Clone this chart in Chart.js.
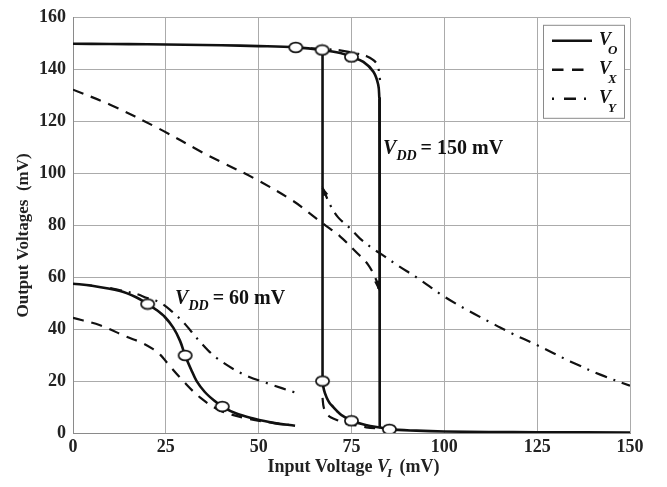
<!DOCTYPE html>
<html>
<head>
<meta charset="utf-8">
<script src="https://cdn.jsdelivr.net/npm/chart.js@4/dist/chart.umd.min.js"></script>
<style>
  html, body { margin: 0; padding: 0; background: #fff; }
  canvas { display: block; }
</style>
</head>
<body>
<canvas id="c" width="667" height="487"></canvas>
<script>
// ---- Transfer curves of the Schmitt-type inverter (mV) ----
// VDD = 150 mV, output high branch (sweeping up)
const vo150HighX = [0, 10, 20, 30, 40, 50, 60, 67.1, 72, 75, 78.2, 80.9, 82.2, 82.5];
const vo150HighY = [150, 149.9, 149.8, 149.6, 149.4, 149.1, 148.6, 147.6, 146.4, 144.9, 143, 139.2, 134.2, 129];
// fall at the upper threshold
const vo150FallX = [82.5, 82.6];
const vo150FallY = [129, 2.2];
// rise at the lower threshold
const vo150RiseX = [67.2, 67.2];
const vo150RiseY = [147.6, 20];
// VDD = 150 mV, output low branch (sweeping down)
const vo150LowX = [67.2, 67.6, 68.3, 69.1, 70.1, 71.2, 72.4, 75, 79.1, 82.7, 85.2, 92.5, 100, 112, 125, 150];
const vo150LowY = [20, 16.5, 13.7, 11.6, 10, 8.3, 6.8, 4.7, 3, 2.1, 1.4, 0.9, 0.6, 0.4, 0.3, 0.2];
// VX, VDD = 150 mV
const vx150HighX = [0, 10, 23.4, 35, 40, 49.5, 59.3, 63.4, 67.4, 71.9, 75.9, 79.5, 81.8, 82.3];
const vx150HighY = [132.3, 126.5, 117.1, 108, 104.4, 97.6, 89.4, 85, 80.6, 75.8, 70.2, 64.8, 58.5, 55.5];
const vx150LowX = [67.2, 67.5, 68.2, 69.5, 71.5, 73.5, 76.5, 79, 83];
const vx150LowY = [13.5, 10, 7.6, 6, 4.8, 3.7, 2.9, 2.2, 1.6];
// VY, VDD = 150 mV
const vy150HighX = [64, 67, 71.4, 75, 79.1, 81.8, 82.7];
const vy150HighY = [148.2, 147.9, 147.6, 146.6, 145.2, 142.3, 136];
const vy150LowX = [67.2, 69.4, 71.4, 74.6, 77.3, 80.7, 84, 87.2, 93, 99.7, 106, 112.3, 118, 124.9, 133.9, 142, 150];
const vy150LowY = [94.5, 87.5, 83.1, 78.9, 74.9, 71.1, 68, 64.8, 59.5, 52.8, 47.5, 42.7, 38.5, 33.9, 27.6, 22.5, 18.2];
// VDD = 60 mV
const vo60X = [0, 5, 12.7, 17, 20.1, 22.5, 24.8, 27, 28.8, 30.2, 31.8, 33.3, 35.5, 38, 40.2, 44, 48.6, 54, 59.8];
const vo60Y = [57.5, 56.8, 54.7, 52.3, 49.7, 47.4, 44.6, 40.6, 35.6, 29.9, 24.5, 20, 15.8, 12.5, 10.2, 7.5, 5.6, 3.9, 2.8];
const vx60X = [0, 7.3, 14.4, 18.5, 21.6, 23.6, 25.6, 29.7, 34.2, 39.6, 46.8, 54.8, 58];
const vx60Y = [44.4, 41.5, 37.1, 34.8, 32.3, 30, 26.6, 20, 13.7, 8.7, 5.6, 3.7, 3.2];
const vy60X = [10, 12.7, 17, 20, 23.4, 26.5, 29.7, 34.2, 38.7, 45.9, 53.1, 59.8];
const vy60Y = [55.8, 55, 53.6, 52, 50.3, 47, 42.7, 35.2, 28.9, 22.6, 18.8, 15.6];
// Operating points marked with open circles on VO
const markX = [60, 67.1, 75, 67.2, 75, 85.2, 20.1, 30.2, 40.2];
const markY = [148.6, 147.6, 144.9, 20, 4.7, 1.4, 49.7, 29.9, 10.2];
// Axis ticks
const xTicks = [0, 25, 50, 75, 100, 125, 150];
const yTicks = [0, 20, 40, 60, 80, 100, 120, 140, 160];

const SERIF = "'Liberation Serif', 'Times New Roman', serif";
const SOLID = [];
const DASH = [11, 8];
const DASHDOT = [12, 7, 2, 7];

function pts(xs, ys) { return xs.map((x, i) => ({ x: x, y: ys[i] })); }
function curve(xs, ys, dash, width, tension) {
  return {
    data: pts(xs, ys), showLine: true, fill: false, tension: tension,
    borderColor: '#111', borderWidth: width, borderDash: dash,
    pointRadius: 0, pointHoverRadius: 0, borderCapStyle: 'butt', borderJoinStyle: 'round'
  };
}

// open ellipse marker
const ring = document.createElement('canvas');
ring.width = 17; ring.height = 13;
(function () {
  const g = ring.getContext('2d');
  g.beginPath();
  g.ellipse(8.5, 6.5, 6.6, 4.9, 0, 0, Math.PI * 2);
  g.fillStyle = '#fff'; g.fill();
  g.lineWidth = 1.7; g.strokeStyle = '#111'; g.stroke();
})();

const T = 0.35;
const datasets = [
  { data: pts(markX, markY), showLine: false, pointStyle: ring, pointRadius: 7, pointHoverRadius: 7, order: -1 },
  curve(vx150HighX, vx150HighY, DASH, 2.2, T),
  curve(vx150LowX, vx150LowY, DASH, 2.2, T),
  curve(vy150HighX, vy150HighY, DASHDOT, 2.2, T),
  curve(vy150LowX, vy150LowY, DASHDOT, 2.2, T),
  curve(vx60X, vx60Y, DASH, 2.2, T),
  curve(vy60X, vy60Y, DASHDOT, 2.2, T),
  curve(vo150HighX, vo150HighY, SOLID, 2.6, T),
  curve(vo150FallX, vo150FallY, SOLID, 2.6, 0),
  curve(vo150RiseX, vo150RiseY, SOLID, 2.6, 0),
  curve(vo150LowX, vo150LowY, SOLID, 2.6, T),
  curve(vo60X, vo60Y, SOLID, 2.6, T)
];

// draw a run of text pieces (italic / subscript) left to right
function runs(ctx, x, y, parts) {
  let cx = x;
  parts.forEach(p => {
    ctx.font = (p.italic ? 'italic ' : '') + 'bold ' + p.size + 'px ' + SERIF;
    ctx.fillText(p.t, cx, y + (p.dy || 0));
    cx += ctx.measureText(p.t).width + (p.kern || 0);
  });
  return cx - x;
}
function runsWidth(ctx, parts) {
  let w = 0;
  parts.forEach(p => {
    ctx.font = (p.italic ? 'italic ' : '') + 'bold ' + p.size + 'px ' + SERIF;
    w += ctx.measureText(p.t).width + (p.kern || 0);
  });
  return w;
}

function arrowHead(ctx, xs, ys, idxTip, idxFrom, sx, sy) {
  const x1 = sx.getPixelForValue(xs[idxTip]), y1 = sy.getPixelForValue(ys[idxTip]);
  const x0 = sx.getPixelForValue(xs[idxFrom]), y0 = sy.getPixelForValue(ys[idxFrom]);
  const a = Math.atan2(y1 - y0, x1 - x0);
  const L = 8, W = 2.6;
  ctx.beginPath();
  ctx.moveTo(x1 + Math.cos(a) * 2, y1 + Math.sin(a) * 2);
  ctx.lineTo(x1 - Math.cos(a) * L - Math.sin(a) * W, y1 - Math.sin(a) * L + Math.cos(a) * W);
  ctx.lineTo(x1 - Math.cos(a) * L + Math.sin(a) * W, y1 - Math.sin(a) * L - Math.cos(a) * W);
  ctx.closePath();
  ctx.fill();
}

const decor = {
  id: 'decor',
  afterDatasetsDraw(chart) {
    const ctx = chart.ctx, a = chart.chartArea;
    const sx = chart.scales.x, sy = chart.scales.y;
    ctx.save();
    ctx.fillStyle = '#111';
    ctx.textBaseline = 'alphabetic';
    ctx.textAlign = 'left';

    // transition arrows
    arrowHead(ctx, vy150LowX, vy150LowY, 0, 1, sx, sy);
    arrowHead(ctx, vx150HighX, vx150HighY, vx150HighX.length - 1, vx150HighX.length - 2, sx, sy);

    // supply-voltage labels
    runs(ctx, sx.getPixelForValue(83.5), sy.getPixelForValue(107.4), [
      { t: 'V', italic: true, size: 20 },
      { t: 'DD', italic: true, size: 14, dy: 6, kern: 4 },
      { t: '= 150 mV', size: 20 }
    ]);
    runs(ctx, sx.getPixelForValue(27.5), sy.getPixelForValue(49.8), [
      { t: 'V', italic: true, size: 20 },
      { t: 'DD', italic: true, size: 14, dy: 6, kern: 4 },
      { t: '= 60 mV', size: 20 }
    ]);

    // legend box
    const bw = 81, bh = 93;
    const bx = a.right - 6 - bw, by = a.top + 7;
    ctx.fillStyle = '#fff';
    ctx.fillRect(bx, by, bw, bh);
    ctx.strokeStyle = '#8a8a8a';
    ctx.lineWidth = 1;
    ctx.strokeRect(bx + 0.5, by + 0.5, bw, bh);
    const rows = [
      { dash: SOLID, w: 2.6, sub: 'O' },
      { dash: [11.5, 8.5], w: 2.6, sub: 'X' },
      { dash: [2, 10, 12, 8], w: 2.6, sub: 'Y' }
    ];
    ctx.strokeStyle = '#111';
    ctx.fillStyle = '#111';
    rows.forEach((r, i) => {
      const ly = by + 16 + i * 29;
      ctx.setLineDash(r.dash);
      ctx.lineWidth = r.w;
      ctx.beginPath();
      ctx.moveTo(bx + 9, ly);
      ctx.lineTo(bx + 49, ly);
      ctx.stroke();
      ctx.setLineDash([]);
      runs(ctx, bx + 56, ly + 4, [
        { t: 'V', italic: true, size: 18, kern: -3 },
        { t: r.sub, italic: true, size: 13, dy: 9 }
      ]);
    });

    // axis titles
    ctx.fillStyle = '#222';
    const xt = [
      { t: 'Input Voltage ', size: 18 },
      { t: 'V', italic: true, size: 18, kern: -2 },
      { t: 'I', italic: true, size: 13, dy: 5, kern: 3 },
      { t: ' (mV)', size: 18 }
    ];
    const xw = runsWidth(ctx, xt);
    runs(ctx, (a.left + a.right) / 2 - xw / 2 + 2, 472, xt);

    ctx.translate(28, (a.top + a.bottom) / 2 + 10);
    ctx.rotate(-Math.PI / 2);
    ctx.font = 'bold 17px ' + SERIF;
    ctx.textAlign = 'center';
    ctx.fillText('Output Voltages  (mV)', 0, 0);
    ctx.restore();
  }
};

new Chart(document.getElementById('c'), {
  type: 'scatter',
  data: { datasets: datasets },
  options: {
    responsive: false,
    animation: false,
    events: [],
    layout: { padding: { top: 10, right: 37, bottom: 0, left: 0 } },
    plugins: { legend: { display: false }, tooltip: { enabled: false } },
    scales: {
      x: {
        type: 'linear', min: 0, max: 150,
        afterBuildTicks(s) { s.ticks = xTicks.map(v => ({ value: v })); },
        ticks: { color: '#222', padding: 4, font: { family: SERIF, size: 18, weight: 'bold' } },
        grid: { color: '#ababab', lineWidth: 1, drawTicks: false },
        border: { color: '#8a8a8a', width: 1 },
        afterFit(s) { s.height = 54; }
      },
      y: {
        type: 'linear', min: 0, max: 160,
        afterBuildTicks(s) { s.ticks = yTicks.map(v => ({ value: v })); },
        ticks: { color: '#222', padding: 7, font: { family: SERIF, size: 18, weight: 'bold' } },
        grid: { color: '#ababab', lineWidth: 1, drawTicks: false },
        border: { color: '#8a8a8a', width: 1 },
        afterFit(s) { s.width = 73; }
      }
    }
  },
  plugins: [decor]
});
</script>
</body>
</html>
